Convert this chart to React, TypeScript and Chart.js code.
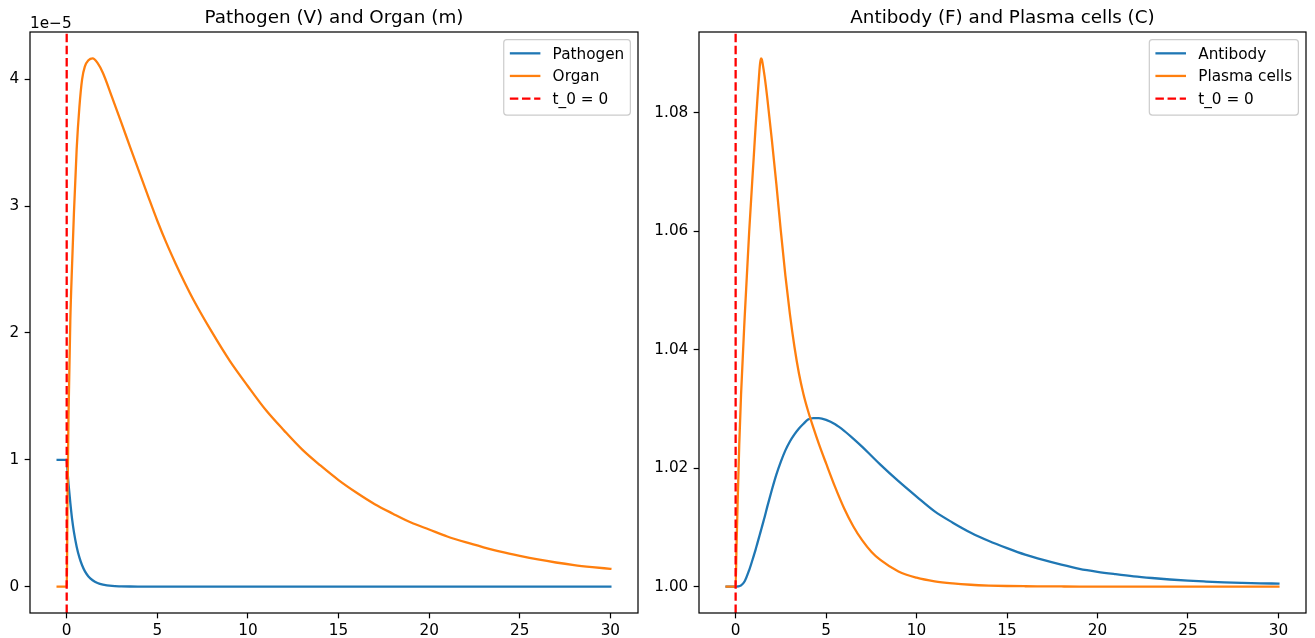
import React, { useEffect, useRef } from "react";
import { Chart, registerables } from "chart.js";

Chart.register(...registerables);

const FONT = '"DejaVu Sans", "Liberation Sans", sans-serif';
const BLUE = "#1f77b4";
const ORANGE = "#ff7f0e";
const RED = "#ff0000";

// ---------- Left panel: Pathogen (V) and Organ (m) ----------
const tLeft = [-0.5, 0, 0.05, 0.1, 0.2, 0.3, 0.4, 0.55, 0.7, 0.85, 1.0, 1.2, 1.43, 1.7, 2.0, 2.5, 3, 3.5, 4, 4.5, 5, 5.5, 6, 6.5, 7, 8, 9, 10, 11, 12, 13, 14, 15, 16, 17, 18, 19, 20, 21, 22, 23, 24, 25, 26, 27, 28, 29, 30];
const pathogen = [1e-5, 1e-5, 0.9e-5, 0.81e-5, 0.66e-5, 0.53e-5, 0.43e-5, 0.315e-5, 0.23e-5, 0.168e-5, 0.122e-5, 0.08e-5, 0.05e-5, 0.028e-5, 0.015e-5, 0.005e-5, 0.002e-5, 0.0007e-5, 0.0002e-5, 0, 0, 0, 0, 0, 0, 0, 0, 0, 0, 0, 0, 0, 0, 0, 0, 0, 0, 0, 0, 0, 0, 0, 0, 0, 0, 0, 0, 0];
const organ = [0, 0, 0.75e-5, 1.35e-5, 2.1e-5, 2.55e-5, 2.95e-5, 3.45e-5, 3.78e-5, 4.0e-5, 4.1e-5, 4.15e-5, 4.165e-5, 4.13e-5, 4.05e-5, 3.86e-5, 3.665e-5, 3.465e-5, 3.27e-5, 3.075e-5, 2.885e-5, 2.71e-5, 2.55e-5, 2.4e-5, 2.26e-5, 2.01e-5, 1.78e-5, 1.58e-5, 1.39e-5, 1.23e-5, 1.08e-5, 0.955e-5, 0.84e-5, 0.74e-5, 0.65e-5, 0.575e-5, 0.505e-5, 0.45e-5, 0.395e-5, 0.35e-5, 0.31e-5, 0.273e-5, 0.242e-5, 0.214e-5, 0.19e-5, 0.17e-5, 0.154e-5, 0.14e-5];

// ---------- Right panel: Antibody (F) and Plasma cells (C) ----------
const tRight = [-0.5, 0, 0.05, 0.1, 0.2, 0.3, 0.5, 0.75, 1.0, 1.1, 1.2, 1.3, 1.35, 1.4, 1.45, 1.5, 1.6, 1.75, 2.0, 2.25, 2.5, 2.75, 3.0, 3.25, 3.5, 3.75, 4.0, 4.3, 4.6, 5.0, 5.5, 6.0, 6.5, 7.0, 7.5, 8.0, 9, 10, 11, 12, 13, 14, 15, 16, 17, 18, 19, 20, 21, 22, 23, 24, 25, 26, 27, 28, 29, 30];
const antibody = [1.0, 1.0, 1.0, 1.00002, 1.00008, 1.0002, 1.0009, 1.0028, 1.0052, 1.0062, 1.0073, 1.0084, 1.00895, 1.0095, 1.01005, 1.0106, 1.0117, 1.0135, 1.0163, 1.0189, 1.0211, 1.023, 1.0245, 1.0257, 1.0267, 1.0275, 1.0282, 1.02845, 1.02845, 1.02815, 1.0274, 1.0263, 1.025, 1.0236, 1.0221, 1.0206, 1.0178, 1.0152, 1.0127, 1.0108, 1.0091, 1.0077, 1.0065, 1.0054, 1.0045, 1.0037, 1.003, 1.0025, 1.0021, 1.00174, 1.00145, 1.0012, 1.001, 1.00085, 1.00072, 1.00063, 1.00056, 1.0005];
const plasma = [1.0, 1.0, 1.007, 1.013, 1.024, 1.0325, 1.0455, 1.06, 1.0725, 1.0775, 1.0822, 1.0865, 1.0883, 1.0892, 1.089, 1.0882, 1.0862, 1.0825, 1.0755, 1.068, 1.06, 1.0525, 1.046, 1.0405, 1.036, 1.0325, 1.0297, 1.0268, 1.0241, 1.0208, 1.0168, 1.0132, 1.0102, 1.0078, 1.0059, 1.0045, 1.00255, 1.0015, 1.00088, 1.00053, 1.00031, 1.00018, 1.0001, 1.00006, 1.00004, 1.00002, 1.00001, 1.00001, 1.0, 1.0, 1.0, 1.0, 1.0, 1.0, 1.0, 1.0, 1.0, 1.0];

const t0 = 0;
const xTicks = [0, 5, 10, 15, 20, 25, 30];
const yTicksLeft = [0, 1e-5, 2e-5, 3e-5, 4e-5];
const yTicksRight = [1.0, 1.02, 1.04, 1.06, 1.08];

function limits(arrs: number[][]): [number, number] {
  let lo = Infinity, hi = -Infinity;
  for (const a of arrs) for (const v of a) { if (v < lo) lo = v; if (v > hi) hi = v; }
  const m = (hi - lo) * 0.05;
  return [lo - m, hi + m];
}

const PXPT = 110 / 72;
const FS = 10 * PXPT;
const LW = 1.5 * PXPT;
const DASH = [3.7 * 1.5 * PXPT, 1.6 * 1.5 * PXPT];

function decorPlugin(title: string, offsetText: string | null) {
  return {
    id: "decor",
    afterDatasetsDraw(chart: any) {
      const { ctx, chartArea: a } = chart;
      ctx.save();
      ctx.strokeStyle = "#000";
      ctx.lineWidth = 0.8 * PXPT;
      ctx.strokeRect(a.left, a.top, a.right - a.left, a.bottom - a.top);
      ctx.restore();
    },
    afterDraw(chart: any) {
      const { ctx, chartArea: a } = chart;
      ctx.save();
      ctx.fillStyle = "#000";
      ctx.font = `${12 * PXPT}px ${FONT}`;
      ctx.textAlign = "center";
      ctx.textBaseline = "alphabetic";
      ctx.fillText(title, (a.left + a.right) / 2, a.top - 6 * PXPT);
      if (offsetText) {
        ctx.font = `${FS}px ${FONT}`;
        ctx.textAlign = "left";
        ctx.fillText(offsetText, a.left, a.top - 4);
      }
      const ds = chart.data.datasets;
      ctx.font = `${FS}px ${FONT}`;
      let tw = 0;
      for (const d of ds) tw = Math.max(tw, ctx.measureText(d.label).width);
      const w = 0.4 * FS + 2 * FS + 0.8 * FS + tw + 0.4 * FS;
      const h = 75.4;
      const right = a.right - 0.5 * FS;
      const top = a.top + 0.5 * FS;
      const left = right - w;
      const r = 0.2 * FS;
      ctx.beginPath();
      ctx.moveTo(left + r, top);
      ctx.lineTo(right - r, top);
      ctx.arcTo(right, top, right, top + r, r);
      ctx.lineTo(right, top + h - r);
      ctx.arcTo(right, top + h, right - r, top + h, r);
      ctx.lineTo(left + r, top + h);
      ctx.arcTo(left, top + h, left, top + h - r, r);
      ctx.lineTo(left, top + r);
      ctx.arcTo(left, top, left + r, top, r);
      ctx.closePath();
      ctx.fillStyle = "rgba(255,255,255,0.8)";
      ctx.fill();
      ctx.strokeStyle = "#cccccc";
      ctx.lineWidth = 1.2;
      ctx.stroke();
      ds.forEach((d: any, i: number) => {
        const y = top + 13.7 + i * 22.6;
        const dashed = d.borderDash && d.borderDash.length;
        ctx.beginPath();
        ctx.setLineDash(dashed ? d.borderDash : []);
        ctx.lineCap = dashed ? "butt" : "square";
        ctx.strokeStyle = d.borderColor;
        ctx.lineWidth = LW;
        const hx = left + 0.4 * FS;
        const c = dashed ? 0 : LW / 2;
        ctx.moveTo(hx + c, y);
        ctx.lineTo(hx + 2 * FS - c, y);
        ctx.stroke();
        ctx.setLineDash([]);
        ctx.fillStyle = "#000";
        ctx.textAlign = "left";
        ctx.textBaseline = "alphabetic";
        ctx.fillText(d.label, left + 3.2 * FS, y + 5.3);
      });
      ctx.restore();
    },
  };
}

interface PanelProps {
  width: number;
  yAxisWidth: number;
  padRight: number;
  title: string;
  offsetText: string | null;
  t: number[];
  series: { label: string; data: number[]; color: string }[];
  yTicks: number[];
  yFmt: (v: number) => string;
  left: number;
}

function Panel(p: PanelProps) {
  const ref = useRef<HTMLCanvasElement | null>(null);
  useEffect(() => {
    if (!ref.current) return;
    const xl = limits([p.t]);
    const yl = limits(p.series.map((s) => s.data));
    const datasets: any[] = p.series.map((s, i) => ({
      label: s.label,
      data: p.t.map((x, j) => ({ x, y: s.data[j] })),
      borderColor: s.color,
      backgroundColor: s.color,
      borderWidth: LW,
      pointRadius: 0,
      cubicInterpolationMode: "monotone",
      borderCapStyle: "square",
      borderJoinStyle: "round",
      fill: false,
      order: 10 - i,
    }));
    datasets.push({
      label: "t_0 = 0",
      data: [{ x: t0, y: yl[0] }, { x: t0, y: yl[1] }],
      borderColor: RED,
      backgroundColor: RED,
      borderWidth: LW,
      borderDash: DASH,
      borderCapStyle: "butt",
      pointRadius: 0,
      fill: false,
      order: 1,
    });
    const tickFont = { family: FONT, size: FS };
    const gridOpts = { drawOnChartArea: false, drawTicks: true, tickLength: 3.5 * PXPT, tickWidth: 0.8 * PXPT, tickColor: "#000", color: "#000" };
    const chart = new Chart(ref.current, {
      type: "line",
      data: { datasets },
      options: {
        animation: false,
        responsive: false,
        devicePixelRatio: 1,
        events: [],
        layout: { padding: { left: 0, top: 32, right: p.padRight, bottom: 0 } },
        plugins: { legend: { display: false }, title: { display: false }, tooltip: { enabled: false } },
        scales: {
          x: {
            type: "linear",
            min: xl[0],
            max: xl[1],
            afterBuildTicks: (s: any) => { s.ticks = xTicks.map((v) => ({ value: v })); },
            afterFit: (s: any) => { s.height = 25; },
            ticks: { font: tickFont, color: "#000", padding: 4, autoSkip: false, maxRotation: 0, minRotation: 0, callback: (v: any) => String(v) },
            grid: gridOpts,
            border: { display: false },
          },
          y: {
            type: "linear",
            min: yl[0],
            max: yl[1],
            afterBuildTicks: (s: any) => { s.ticks = p.yTicks.map((v) => ({ value: v })); },
            afterFit: (s: any) => { s.width = p.yAxisWidth; },
            ticks: { font: tickFont, color: "#000", padding: 3.5 * PXPT, autoSkip: false, callback: (v: any) => p.yFmt(Number(v)) },
            grid: gridOpts,
            border: { display: false },
          },
        },
      } as any,
      plugins: [decorPlugin(p.title, p.offsetText) as any],
    });
    return () => chart.destroy();
  }, []);
  return <canvas ref={ref} width={p.width} height={638} style={{ position: "absolute", top: 0, left: p.left, display: "block" }} />;
}

export default function App() {
  return (
    <div style={{ position: "fixed", left: 0, top: 0, width: 1315, height: 638, background: "#fff", overflow: "hidden" }}>
      <Panel
        width={640}
        yAxisWidth={30}
        padRight={2}
        title="Pathogen (V) and Organ (m)"
        offsetText={"1e\u22125"}
        t={tLeft}
        series={[
          { label: "Pathogen", data: pathogen, color: BLUE },
          { label: "Organ", data: organ, color: ORANGE },
        ]}
        yTicks={yTicksLeft}
        yFmt={(v) => String(Math.round(v / 1e-5))}
        left={0}
      />
      <Panel
        width={675}
        yAxisWidth={59}
        padRight={9}
        title="Antibody (F) and Plasma cells (C)"
        offsetText={null}
        t={tRight}
        series={[
          { label: "Antibody", data: antibody, color: BLUE },
          { label: "Plasma cells", data: plasma, color: ORANGE },
        ]}
        yTicks={yTicksRight}
        yFmt={(v) => v.toFixed(2)}
        left={640}
      />
    </div>
  );
}
